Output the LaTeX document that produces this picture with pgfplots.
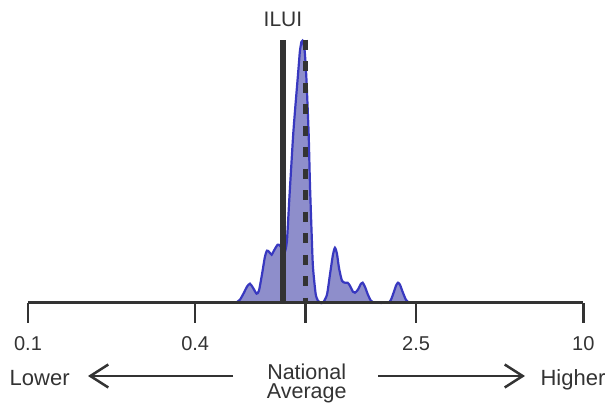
\documentclass[border=0pt]{standalone}
\usepackage{fontspec}
\setmainfont{Liberation Sans}
\usepackage{pgfplots}
\pgfplotsset{compat=1.18}
\usetikzlibrary{arrows.meta}

\definecolor{txtgray}{HTML}{333333}
\definecolor{kdeline}{HTML}{3838C0}
\definecolor{kdefill}{HTML}{8E8ECB}

\begin{document}
\begin{tikzpicture}
\useasboundingbox (-28pt,-103.3pt) rectangle (580pt,302.7pt);
\begin{axis}[
    xmode=log, xmin=0.1, xmax=10, ymin=0, ymax=263,
    scale only axis, width=555.3pt, height=263pt,
    axis x line=bottom, axis y line=none,
    x axis line style={-, line width=2.5pt, draw=txtgray},
    xtick={0.1,0.4,1,2.5,10}, xticklabels={0.1,0.4,,2.5,10},
    xminorticks=false,
    tick align=outside, major tick length=20pt,
    tick style={line width=2.5pt, draw=txtgray},
    xticklabel style={font=\fontsize{20}{20}\selectfont, text=txtgray,
        yshift=-10pt},
    /pgf/number format/assume math mode=true,
    clip=false, axis on top,
]
% kernel density of the hospitals' ratios
\addplot[draw=kdeline, line width=2.2pt, fill=kdefill, smooth, tension=0.4]
coordinates {
 (0.561,0) (0.580,3) (0.5995,10) (0.6146,16) (0.630,19) (0.646,15)
 (0.666,9) (0.679,12) (0.696,28) (0.7135,46) (0.7254,52) (0.7375,51)
 (0.7543,48) (0.7687,52) (0.7928,58) (0.8081,57) (0.8285,53) (0.8424,51)
 (0.8564,62) (0.873,103) (0.8874,136) (0.9023,169) (0.9174,195)
 (0.9327,219) (0.9460,240) (0.9538,252) (0.9658,261) (0.9739,262)
 (0.9819,259) (0.9917,252) (1.0,238) (1.0083,219) (1.0252,169)
 (1.0363,119) (1.0510,69) (1.0624,36) (1.0864,9) (1.1072,2) (1.1259,0)
 (1.1544,0) (1.1933,8) (1.2233,28) (1.2541,48) (1.2751,55) (1.2965,49)
 (1.3182,35) (1.3513,22) (1.3853,20) (1.4166,20) (1.4439,17) (1.4803,11)
 (1.5050,10) (1.5429,13) (1.5818,19) (1.6045,20) (1.6351,16) (1.6763,8)
 (1.7185,2) (1.7620,0)
 (1.979,0) (2.029,3) (2.080,11) (2.115,17) (2.150,20) (2.186,18)
 (2.241,10) (2.297,3) (2.355,0)
} \closedcycle;
% ILUI
\addplot[txtgray, line width=5.3pt] coordinates {(0.8285,0) (0.8285,263)};
% national average
\addplot[txtgray, line width=5pt, dash pattern=on 10pt off 11.5pt]
coordinates {(1,263) (1,0)};
\node[anchor=base, text=txtgray, font=\fontsize{21}{21}\selectfont]
  at (axis cs:0.8285,276) {ILUI};
\end{axis}
\node[anchor=base, text=txtgray, font=\fontsize{22}{22}\selectfont]
  at (11.7pt,-83pt) {Lower};
\node[anchor=base, text=txtgray, font=\fontsize{22}{22}\selectfont]
  at (545pt,-83pt) {Higher};
\node[anchor=base, text=txtgray, font=\fontsize{21.5}{21.5}\selectfont]
  at (278.7pt,-76.5pt) {National};
\node[anchor=base, text=txtgray, font=\fontsize{21.5}{21.5}\selectfont]
  at (278.7pt,-96pt) {Average};
\draw[txtgray, line width=2.5pt, -{Straight Barb[length=18pt,width=23pt]}]
  (205pt,-73.3pt) -- (60pt,-73.3pt);
\draw[txtgray, line width=2.5pt, -{Straight Barb[length=18pt,width=23pt]}]
  (350pt,-73.3pt) -- (497pt,-73.3pt);
\end{tikzpicture}
\end{document}
